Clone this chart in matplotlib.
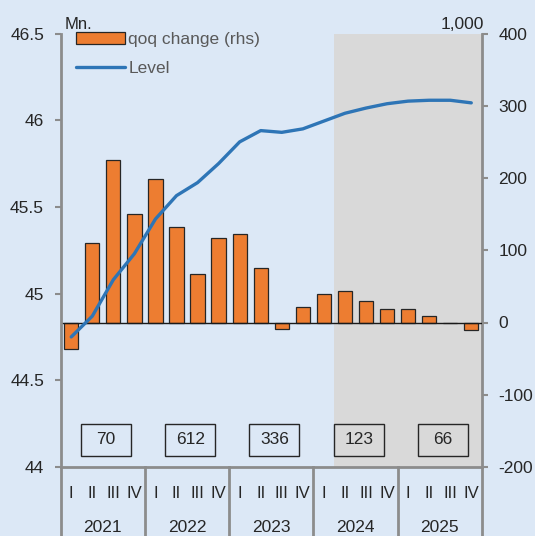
import numpy as np
import matplotlib
matplotlib.use("Agg")
import matplotlib.pyplot as plt
from matplotlib.patches import Rectangle
from matplotlib.lines import Line2D
import matplotlib.transforms as mtransforms

# Datos
anios = ["2021", "2022", "2023", "2024", "2025"]
trimestres = ["I", "II", "III", "IV"]
variacion_trim = [-37, 110, 225, 150, 198, 132, 67, 117, 122, 76, -9, 22,
                  39, 43, 30, 19, 19, 9, 0, -11]
nivel = [44.75, 44.87, 45.08, 45.23, 45.43, 45.565, 45.64, 45.75, 45.875, 45.94,
         45.93, 45.95, 45.995, 46.04, 46.07, 46.095, 46.11, 46.115, 46.115, 46.10]
cambio_anual = [70, 612, 336, 123, 66]
inicio_proyeccion = 12.5  # desde 2024 II

fondo = "#DCE8F6"
gris_eje = "#8C8C8C"
texto = "#262626"

plt.rcParams['font.family'] = ['Liberation Sans', 'DejaVu Sans']
plt.rcParams['font.size'] = 12.5

fig = plt.figure(figsize=(5.35, 5.36), dpi=100, facecolor=fondo)
W, H = 535, 536
ax2 = fig.add_axes([60.7 / W, 1 - 467 / H, (481.8 - 60.7) / W, (467 - 33.5) / H])
ax2.set_facecolor(fondo)
ax = ax2.twinx()
ax.yaxis.tick_left()
ax.set_zorder(ax2.get_zorder() + 1)
ax.patch.set_visible(False)

x = np.arange(len(variacion_trim))

# Zona sombreada y barras (eje derecho)
ax2.axvspan(inicio_proyeccion, len(x) - 0.5, color="#D9D9D9", lw=0, zorder=0)
barras = ax2.bar(x, variacion_trim, width=0.68, color="#ED7D31",
                 edgecolor="#262626", linewidth=0.9, zorder=2, label="qoq change (rhs)")
ax2.axhline(0, color="#1a1a1a", lw=1.0, zorder=3)

# Cajas con el cambio anual
for i, val in enumerate(cambio_anual):
    cx = 4 * i + 1.65
    ax2.add_patch(Rectangle((cx - 1.19, -184.6), 2.38, 44.2, fill=False,
                            edgecolor="#262626", lw=1.0, zorder=4))
    ax2.text(cx, -162.5, str(val), ha="center", va="center", color=texto,
             fontsize=12.5, zorder=5)

ax2.set_xlim(-0.5, len(x) - 0.5)
ax2.set_ylim(-200, 400)
ax2.set_yticks(range(-200, 401, 100))
ax2.set_yticklabels(["-200", "-100", "0", "100", "200", "300", "400"])

# Linea del nivel (eje izquierdo)
linea, = ax.plot(x, nivel, color="#2E75B6", lw=2.4, zorder=5, label="Level",
                 solid_capstyle="round")
ax.set_ylim(44, 46.5)
ax.set_yticks([44, 44.5, 45, 45.5, 46, 46.5])
ax.set_yticklabels(["44", "44.5", "45", "45.5", "46", "46.5"])

for a in (ax, ax2):
    for s in a.spines.values():
        s.set_visible(False)
    a.tick_params(axis="y", colors=gris_eje, labelcolor=texto, length=4,
                  width=1.5, pad=8, labelsize=12.5)
ax2.yaxis.tick_right()
ax.spines["left"].set_visible(True)
ax.spines["left"].set_color(gris_eje)
ax.spines["left"].set_linewidth(2)
ax2.spines["right"].set_visible(True)
ax2.spines["right"].set_color(gris_eje)
ax2.spines["right"].set_linewidth(2)
ax2.spines["bottom"].set_visible(True)
ax2.spines["bottom"].set_color(gris_eje)
ax2.spines["bottom"].set_linewidth(2)

# Eje x: trimestres y anios
ax2.set_xticks(x)
ax2.set_xticklabels(trimestres * len(anios))
ax2.tick_params(axis="x", length=0, pad=14, labelcolor=texto, labelsize=12)
ax.tick_params(axis="x", bottom=False, labelbottom=False)

trans = mtransforms.blended_transform_factory(ax2.transData, ax2.transAxes)
for i, anio in enumerate(anios):
    ax2.text(4 * i + 1.5, -0.14, anio, transform=trans, ha="center", va="center",
             color=texto, fontsize=12.5)
for b in range(len(anios) + 1):
    ax2.add_line(Line2D([4 * b - 0.5, 4 * b - 0.5], [0, -0.17], transform=trans,
                        color=gris_eje, lw=2, clip_on=False))

# Unidades
fig.text(65 / W, 1 - 28.5 / H, "Mn.", ha="left", va="baseline", color=texto, fontsize=12)
fig.text(484 / W, 1 - 28.5 / H, "1,000", ha="right", va="baseline", color=texto, fontsize=12.5)

leg = ax.legend([barras, linea], ["qoq change (rhs)", "Level"], loc="upper left",
                bbox_to_anchor=(75.7 / W, 1 - 32 / H), bbox_transform=fig.transFigure,
                frameon=False, borderpad=0, borderaxespad=0, handlelength=2.84,
                handletextpad=0.2, labelspacing=0.78, fontsize=12.5)
for t in leg.get_texts():
    t.set_color("#595959")

fig.savefig("out.png", dpi=100, facecolor=fondo)
